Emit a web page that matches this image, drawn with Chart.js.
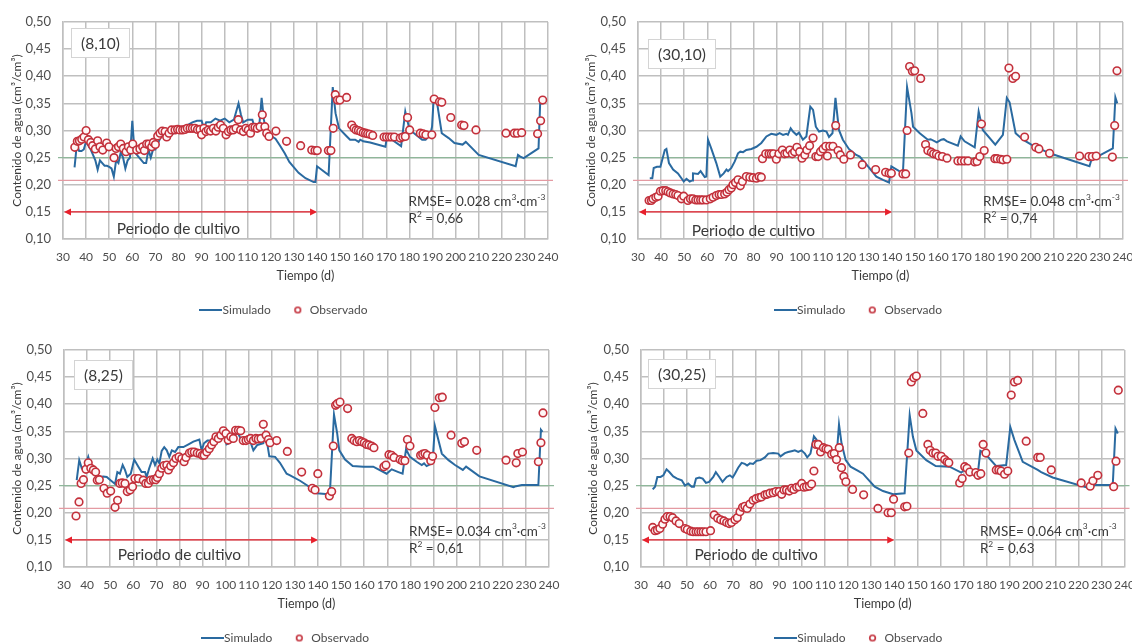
<!DOCTYPE html>
<html>
<head>
<meta charset="utf-8">
<script src="https://cdn.jsdelivr.net/npm/chart.js@4.4.1/dist/chart.umd.min.js"></script>
<style>
  html, body { margin: 0; padding: 0; background: #ffffff; }
  body { width: 1132px; height: 643px; overflow: hidden; position: relative; }
  canvas { position: absolute; }
</style>
</head>
<body>
<canvas id="c1"></canvas>
<canvas id="c2"></canvas>
<canvas id="c3"></canvas>
<canvas id="c4"></canvas>
<script>
// ---------------- DATA ----------------
const panelLabels = ['(8,10)', '(30,10)', '(8,25)', '(30,25)'];
const rmseValues = ['0.028', '0.048', '0.034', '0.064'];
const r2Values = ['0,66', '0,74', '0,61', '0,63'];
const xRange = [30, 240];
const xStep = 10;
const yRange = [0.10, 0.50];
const yStep = 0.05;
const fieldCapacity = 0.25;
const wiltingPoint = 0.208;
const cropPeriod = [30, 140];
const cropArrowLevel = 0.15;
const seriesNames = ['Simulado', 'Observado'];

const sim_8_10 = [[35,0.232],[36,0.275],[37,0.262],[38,0.262],[39,0.265],[40,0.28],[41,0.272],[42,0.265],[43,0.255],[44,0.245],[45,0.228],[46,0.245],[47,0.24],[48,0.235],[49,0.235],[50,0.233],[51,0.23],[52,0.215],[53,0.245],[54,0.24],[55,0.26],[56,0.25],[57,0.23],[58,0.245],[59,0.25],[60,0.318],[61,0.26],[62,0.255],[63,0.25],[64,0.245],[65,0.24],[66,0.24],[67,0.265],[68,0.25],[69,0.265],[70,0.265],[72,0.285],[74,0.295],[76,0.29],[78,0.295],[80,0.3],[82,0.3],[84,0.31],[86,0.315],[88,0.318],[90,0.318],[91,0.305],[92,0.315],[94,0.315],[96,0.322],[98,0.318],[100,0.322],[102,0.315],[104,0.32],[106,0.35],[107,0.33],[108,0.315],[110,0.32],[112,0.32],[113,0.305],[115,0.31],[116,0.36],[117,0.32],[118,0.295],[120,0.29],[122,0.285],[124,0.272],[126,0.258],[128,0.242],[130,0.232],[132,0.222],[135,0.212],[138.5,0.205],[139.3,0.205],[140,0.234],[145,0.218],[146.8,0.38],[148,0.332],[149.5,0.304],[152.9,0.289],[154.3,0.283],[156.5,0.283],[158,0.279],[158.7,0.283],[160,0.28],[163,0.278],[169.6,0.27],[170.3,0.289],[173.5,0.28],[176.4,0.271],[178.2,0.335],[179,0.32],[180.2,0.3],[182,0.295],[185.5,0.283],[187,0.283],[189,0.292],[189.8,0.307],[190.5,0.36],[192,0.35],[194,0.295],[197,0.286],[199.5,0.277],[203,0.274],[204.4,0.279],[210,0.255],[226,0.234],[227,0.255],[228,0.252],[229.5,0.249],[235.9,0.267],[236.6,0.35],[237.3,0.35]];
const obs_8_10 = [[35.1,0.269],[36.2,0.28],[37.1,0.281],[38.1,0.284],[39.1,0.288],[40,0.3],[41,0.283],[42,0.278],[42.8,0.272],[44,0.266],[45,0.281],[46,0.27],[47.2,0.264],[48.9,0.277],[49.9,0.27],[52.1,0.25],[53,0.267],[54,0.27],[55,0.275],[56.1,0.267],[57.3,0.261],[58.3,0.27],[59.3,0.264],[60.2,0.275],[61.9,0.264],[63.3,0.266],[64.5,0.27],[65.2,0.263],[66.2,0.275],[67.2,0.275],[68.4,0.27],[69.1,0.278],[70,0.274],[71,0.29],[72,0.295],[73,0.299],[74.2,0.298],[74.9,0.288],[75.9,0.295],[77,0.301],[78.5,0.301],[79.6,0.302],[80.6,0.301],[81.8,0.301],[82.8,0.302],[83.8,0.304],[85,0.304],[86,0.304],[87.1,0.304],[88.2,0.302],[89.3,0.302],[90,0.292],[91,0.304],[91.9,0.298],[92.9,0.301],[93.9,0.299],[95.1,0.304],[96.2,0.299],[97.2,0.306],[98.2,0.31],[99.4,0.304],[100.6,0.292],[101.6,0.298],[102.7,0.301],[103.7,0.301],[104.9,0.304],[105.9,0.32],[106.9,0.301],[108.1,0.298],[109.2,0.304],[110.2,0.301],[111.2,0.295],[112.1,0.306],[113.1,0.306],[114.1,0.304],[115.3,0.307],[116.3,0.329],[117.4,0.307],[118.2,0.295],[119.2,0.289],[122.2,0.299],[126.8,0.28],[132.9,0.272],[137.7,0.264],[139.1,0.263],[140.1,0.263],[144.9,0.263],[146,0.263],[147,0.304],[147.9,0.366],[148.8,0.356],[149.9,0.356],[152.8,0.361],[155,0.31],[156,0.304],[156.9,0.301],[157.9,0.3],[158.9,0.298],[160,0.296],[161,0.295],[161.9,0.294],[162.9,0.293],[164.1,0.291],[169,0.288],[170.1,0.288],[171.3,0.288],[172.3,0.288],[173.5,0.288],[176,0.286],[177.1,0.288],[178.2,0.289],[179.2,0.324],[180.1,0.301],[184.7,0.295],[185.9,0.294],[187.1,0.292],[189.7,0.292],[190.7,0.358],[193,0.353],[194,0.352],[197.9,0.324],[202.6,0.31],[203.6,0.309],[208.8,0.301],[221.8,0.295],[225.4,0.295],[226.7,0.295],[228.6,0.296],[235.5,0.294],[236.8,0.318],[237.7,0.356]];

const sim_30_10 = [[35.1,0.212],[36.2,0.212],[36.8,0.231],[38.2,0.233],[39.7,0.233],[41.6,0.264],[42.3,0.266],[43.4,0.24],[45.2,0.228],[47.3,0.221],[48.8,0.212],[49.8,0.206],[51,0.211],[52.4,0.206],[53.5,0.208],[53.8,0.221],[56,0.22],[57.1,0.225],[58.9,0.214],[59.6,0.215],[60.3,0.283],[61.7,0.267],[63.9,0.24],[65.6,0.215],[67.1,0.221],[68.3,0.228],[69,0.225],[70.4,0.231],[71.9,0.243],[73.3,0.258],[74.3,0.261],[75.5,0.26],[76.9,0.264],[79.1,0.266],[81.3,0.27],[83.4,0.277],[85.6,0.289],[87.7,0.294],[89.9,0.292],[91.3,0.295],[92.8,0.292],[94.2,0.294],[94.9,0.292],[96.1,0.304],[97.1,0.298],[98.6,0.292],[99.7,0.296],[101.4,0.283],[102.9,0.289],[104.6,0.344],[105.8,0.338],[107,0.307],[108.4,0.298],[110.1,0.3],[111.6,0.298],[112.7,0.288],[114.2,0.295],[115.5,0.36],[117,0.301],[118.7,0.283],[121.3,0.266],[124.5,0.255],[126,0.252],[129.6,0.234],[133.2,0.215],[136.1,0.209],[138.7,0.204],[139.7,0.234],[144.7,0.221],[146.5,0.38],[148.4,0.332],[149.1,0.307],[152,0.295],[155.5,0.283],[156.7,0.284],[159.4,0.278],[161.3,0.283],[162.4,0.284],[163.8,0.28],[168.5,0.272],[169.7,0.289],[171.4,0.28],[175.8,0.269],[177.5,0.335],[179.3,0.301],[184.7,0.274],[188,0.292],[189.7,0.36],[190.9,0.352],[193.5,0.295],[196.7,0.283],[200.3,0.274],[208.2,0.258],[225.5,0.234],[226.7,0.252],[227.7,0.249],[235.6,0.267],[236.7,0.361],[237.5,0.35]];
const obs_30_10 = [[34.8,0.171],[35.8,0.171],[36.5,0.174],[37.7,0.177],[38.7,0.179],[39.7,0.188],[40.8,0.189],[42,0.189],[43,0.187],[44,0.185],[45.2,0.183],[46.3,0.182],[47.3,0.18],[48.8,0.174],[49.8,0.179],[51.6,0.171],[52.7,0.174],[53.8,0.174],[55,0.172],[56,0.172],[57.1,0.172],[58.1,0.172],[59.6,0.172],[61.3,0.174],[62.5,0.177],[63.9,0.18],[65.1,0.182],[66.1,0.182],[67.5,0.183],[68.5,0.186],[69.4,0.191],[70.4,0.194],[71.1,0.2],[72.2,0.204],[73.3,0.209],[74.3,0.198],[75.2,0.206],[76.9,0.215],[78.4,0.214],[79.8,0.213],[81.3,0.212],[82.4,0.215],[83.4,0.214],[83.9,0.248],[85.3,0.257],[86.7,0.257],[87.7,0.257],[88.7,0.257],[89.9,0.247],[91,0.257],[92.5,0.264],[93.5,0.257],[94.5,0.258],[95.7,0.264],[96.8,0.257],[97.8,0.261],[98.8,0.269],[100,0.261],[101,0.249],[102.2,0.255],[103.1,0.264],[104.3,0.272],[105.8,0.286],[107,0.252],[108,0.252],[109,0.261],[110.1,0.266],[111.3,0.271],[112,0.253],[113,0.271],[114.4,0.271],[115.6,0.309],[116.6,0.263],[117.6,0.255],[119.1,0.247],[122,0.255],[127.1,0.237],[132.9,0.228],[137.2,0.223],[138.7,0.221],[139.7,0.221],[144.7,0.22],[145.9,0.22],[146.5,0.3],[147.6,0.418],[148.8,0.409],[149.8,0.41],[152.4,0.396],[154.5,0.274],[155.5,0.263],[157,0.26],[158,0.257],[159.2,0.256],[160.3,0.253],[161.8,0.252],[163.8,0.249],[168.5,0.244],[170,0.244],[171.4,0.244],[172.9,0.244],[175.8,0.242],[176.8,0.243],[178,0.252],[178.7,0.312],[179.9,0.263],[184.5,0.248],[185.5,0.248],[187,0.247],[188,0.246],[189.7,0.247],[190.6,0.415],[192.3,0.396],[193.5,0.4],[197.4,0.288],[202.2,0.269],[203.6,0.266],[208.2,0.258],[221.2,0.253],[225.2,0.252],[226.7,0.252],[228.4,0.253],[235.4,0.251],[236.4,0.309],[237.4,0.41]];

const sim_8_25 = [[35.5,0.26],[36.6,0.297],[37.7,0.282],[39.1,0.285],[40.5,0.303],[41.6,0.285],[43,0.28],[44.4,0.269],[45.6,0.266],[47,0.267],[48.5,0.266],[49.9,0.261],[52.1,0.253],[53.1,0.275],[54.2,0.272],[55.4,0.288],[56.4,0.279],[57.4,0.266],[58.9,0.272],[60.4,0.298],[62.2,0.285],[63.6,0.275],[65.1,0.275],[65.8,0.266],[66.9,0.282],[68.4,0.3],[69.4,0.288],[70.4,0.298],[71.3,0.291],[72.3,0.314],[73.4,0.321],[74.5,0.315],[75.6,0.303],[76.7,0.315],[78.1,0.312],[79.5,0.321],[81.7,0.321],[83.9,0.326],[86,0.331],[88.6,0.335],[89.6,0.315],[90.6,0.328],[92.1,0.333],[93.5,0.333],[95.4,0.34],[97.5,0.346],[99.3,0.343],[100.4,0.326],[101.9,0.329],[103.3,0.337],[105,0.349],[106.5,0.337],[108.4,0.335],[110.2,0.337],[112,0.315],[113.7,0.325],[116.3,0.328],[117,0.346],[117.8,0.333],[118.9,0.304],[121.4,0.303],[123.5,0.292],[126.4,0.272],[127.9,0.269],[132.2,0.259],[136.5,0.247],[139.4,0.236],[144.4,0.234],[145.2,0.242],[146.9,0.381],[148.3,0.346],[149.2,0.315],[151.7,0.298],[155,0.286],[159.6,0.285],[163.9,0.285],[169.7,0.272],[171.9,0.28],[174.8,0.275],[176.6,0.272],[178.1,0.317],[179.8,0.303],[182.7,0.294],[184.9,0.288],[185.9,0.291],[187,0.286],[188.8,0.29],[189.7,0.3],[190.6,0.36],[191.7,0.341],[193.6,0.309],[196.5,0.297],[199.3,0.288],[202.7,0.279],[204.1,0.285],[209.9,0.267],[224.6,0.247],[225.8,0.249],[228.2,0.251],[235.4,0.251],[236.5,0.353],[237.2,0.349]];
const obs_8_25 = [[35.2,0.194],[36.5,0.22],[37.4,0.254],[38.4,0.261],[39.5,0.28],[40.5,0.292],[41.6,0.282],[42.7,0.279],[43.7,0.275],[44.4,0.26],[45.3,0.261],[47.3,0.245],[48.7,0.236],[50.2,0.24],[52.1,0.21],[53.2,0.223],[54.2,0.254],[55.2,0.255],[56.4,0.254],[57.4,0.239],[58.6,0.242],[59.7,0.248],[60.7,0.263],[62.2,0.263],[64.3,0.26],[65.4,0.254],[66.5,0.254],[67.5,0.26],[68.7,0.261],[69.7,0.261],[70.4,0.265],[71.3,0.272],[72.3,0.282],[73.3,0.287],[74.5,0.288],[75.2,0.279],[76.2,0.286],[77.4,0.292],[78.5,0.3],[79.8,0.303],[81,0.3],[82,0.294],[82.8,0.302],[84.3,0.31],[85.3,0.312],[86.4,0.312],[87.7,0.31],[88.9,0.309],[89.9,0.306],[90.7,0.306],[91.8,0.312],[92.9,0.318],[93.9,0.325],[94.9,0.331],[95.8,0.34],[96.8,0.337],[97.9,0.343],[99,0.351],[100.1,0.346],[101.1,0.334],[102.2,0.34],[103.3,0.337],[104.3,0.352],[105.5,0.352],[106.5,0.351],[107.6,0.333],[108.8,0.333],[109.8,0.335],[110.8,0.337],[112,0.333],[113.1,0.337],[114.1,0.336],[115.3,0.337],[116.3,0.363],[117.5,0.343],[118.5,0.335],[119.2,0.329],[122.1,0.333],[126.7,0.313],[132.9,0.275],[137.5,0.245],[138.7,0.242],[139.9,0.272],[144.9,0.231],[145.9,0.239],[146.6,0.323],[147.6,0.398],[148.3,0.401],[149.5,0.404],[152.8,0.392],[154.6,0.337],[155.6,0.333],[156.8,0.331],[157.9,0.333],[158.9,0.331],[160,0.329],[161,0.326],[162,0.325],[163.2,0.323],[164.2,0.32],[168.5,0.285],[169.4,0.288],[170.7,0.307],[171.8,0.306],[172.9,0.302],[175.5,0.298],[176.5,0.296],[177.6,0.296],[178.7,0.335],[179.8,0.323],[184.4,0.306],[185.3,0.308],[186.3,0.309],[187.3,0.306],[188.8,0.296],[189.6,0.304],[190.6,0.394],[192.5,0.412],[193.8,0.413],[197.6,0.343],[202.2,0.328],[203.4,0.331],[208.7,0.315],[221.4,0.297],[225.8,0.292],[226.5,0.309],[228.5,0.312],[235.4,0.294],[236.5,0.329],[237.4,0.384]];

const sim_30_25 = [[35.1,0.243],[36.1,0.248],[37.1,0.266],[38.5,0.266],[39.7,0.269],[41.1,0.28],[42.3,0.275],[44,0.267],[45.7,0.263],[47.7,0.26],[49.1,0.25],[50.5,0.254],[52,0.248],[53,0.248],[53.9,0.263],[55.3,0.265],[56.8,0.263],[58.2,0.255],[59.6,0.257],[61.4,0.266],[62.5,0.275],[64,0.266],[65.4,0.257],[67.2,0.266],[68.6,0.269],[69.8,0.265],[70.8,0.272],[72.2,0.283],[73.7,0.292],[75.1,0.29],[76.1,0.287],[77.3,0.291],[78.7,0.29],[80.2,0.296],[81.9,0.297],[83.8,0.302],[85.3,0.309],[87.4,0.31],[89.6,0.309],[90.6,0.304],[92.5,0.31],[93.9,0.312],[95.8,0.314],[96.8,0.315],[98.3,0.312],[99.7,0.315],[101.2,0.309],[102.2,0.302],[103.6,0.309],[105.1,0.341],[106.2,0.335],[107.4,0.323],[108.4,0.321],[109.8,0.32],[111.3,0.312],[112.7,0.314],[114.2,0.309],[115.2,0.318],[116,0.363],[117.1,0.328],[118.9,0.297],[121,0.285],[124.3,0.277],[126.4,0.272],[131.5,0.248],[135.1,0.24],[139.5,0.234],[144.5,0.236],[146.7,0.38],[148.1,0.34],[149.6,0.315],[153.9,0.297],[158,0.286],[164,0.285],[169.1,0.274],[170.6,0.28],[176.3,0.272],[177.4,0.314],[179.2,0.31],[184.3,0.286],[188.6,0.288],[190.4,0.358],[192.2,0.334],[195.8,0.294],[202.3,0.279],[203.8,0.275],[208.8,0.265],[225.1,0.245],[226.9,0.251],[228.4,0.251],[234.9,0.251],[236.1,0.355],[237.1,0.346]];
const obs_30_25 = [[35.1,0.173],[36.1,0.167],[37.1,0.168],[38.2,0.171],[39.4,0.179],[40.4,0.188],[41.4,0.193],[42.6,0.193],[43.7,0.191],[45.2,0.185],[46.6,0.18],[49.1,0.171],[50.1,0.169],[51.6,0.166],[52.7,0.165],[53.9,0.165],[54.9,0.165],[56,0.165],[57,0.165],[58.2,0.165],[60.2,0.167],[61.8,0.196],[63.3,0.19],[64.6,0.187],[66,0.185],[67.2,0.182],[68.3,0.18],[69.3,0.182],[70.8,0.187],[71.8,0.191],[73,0.202],[74.1,0.21],[75.1,0.212],[76.1,0.208],[77.3,0.216],[78.7,0.223],[79.9,0.226],[81.3,0.228],[82.3,0.229],[83.8,0.233],[84.8,0.234],[86,0.236],[87.4,0.237],[88.6,0.239],[90,0.239],[91.1,0.234],[92.1,0.242],[93.2,0.242],[94.4,0.24],[95.4,0.245],[96.4,0.243],[97.6,0.247],[98.7,0.248],[99.8,0.254],[100.8,0.247],[101.9,0.248],[103.1,0.249],[104.1,0.253],[105.1,0.277],[106,0.326],[107,0.326],[108,0.312],[109.2,0.32],[110.3,0.318],[111.3,0.317],[112.8,0.308],[113.9,0.309],[114.9,0.298],[116.1,0.32],[117.1,0.283],[118.1,0.267],[119,0.257],[121.9,0.243],[126.7,0.233],[132.9,0.208],[137.3,0.2],[138.7,0.2],[139.7,0.225],[144.5,0.211],[145.5,0.212],[146.3,0.31],[147.4,0.441],[148.5,0.449],[149.6,0.452],[152.4,0.383],[154.6,0.326],[155.6,0.315],[156.8,0.31],[158,0.31],[159,0.304],[160.4,0.304],[161.9,0.298],[162.9,0.294],[163.7,0.292],[168.4,0.255],[169.5,0.263],[170.6,0.285],[171.6,0.282],[172.8,0.275],[175.4,0.274],[176.4,0.269],[177.6,0.272],[178.6,0.326],[179.8,0.31],[184.3,0.279],[185.4,0.279],[186.4,0.277],[187.9,0.271],[189.3,0.277],[190.8,0.417],[192.2,0.441],[193.6,0.444],[197.3,0.332],[202.3,0.302],[203.4,0.302],[208.2,0.279],[221.2,0.255],[225.1,0.249],[226.3,0.259],[228.4,0.269],[235.3,0.248],[236.3,0.295],[237.3,0.426]];

const simSeries = [sim_8_10, sim_30_10, sim_8_25, sim_30_25];
const obsSeries = [obs_8_10, obs_30_10, obs_8_25, obs_30_25];

// ---------------- LAYOUT / STYLE ----------------
const FONT = 'Lato, "Open Sans", "DejaVu Sans", sans-serif';
const SIM_COLOR = '#2a6aa0';
const OBS_COLOR = '#c3303b';
const OBS_FILL = '#fff6f6';
const GRID_COLOR = '#bfbfbf';
const TEXT_COLOR = '#4d4d4d';
const DARK_TEXT = '#3a3a3a';

const panels = [
  {id:'c1', left:0,   top:0,   w:566, h:326, pad:{left:24, right:18,  top:22, bottom:0}, yW:39, yTitlePad:-14.5, boxDx:8,  boxDy:6,  periodY:0.118, statX:179.6, statY:[0.168,0.137]},
  {id:'c2', left:566, top:0,   w:566, h:326, pad:{left:32, right:9,   top:22, bottom:0}, yW:40, yTitlePad:-14.5, boxDx:10, boxDy:17, periodY:0.114, statX:179.4, statY:[0.168,0.137]},
  {id:'c3', left:0,   top:321, w:566, h:333, pad:{left:26, right:17,  top:29, bottom:0}, yW:38, yTitlePad:-16.5, boxDx:10, boxDy:10, periodY:0.123, statX:179.4, statY:[0.166,0.133]},
  {id:'c4', left:566, top:321, w:566, h:333, pad:{left:31, right:7.5, top:29, bottom:0}, yW:44, yTitlePad:-11.2, boxDx:7,  boxDy:9,  periodY:0.123, statX:177.2, statY:[0.166,0.133]}
];

Chart.defaults.font.family = FONT;
Chart.defaults.color = TEXT_COLOR;

// legend pictograms
function makeLineImg() {
  const c = document.createElement('canvas'); c.width = 23; c.height = 2;
  const g = c.getContext('2d'); g.fillStyle = SIM_COLOR; g.fillRect(0, 0, 23, 2); return c;
}
function makeCircleImg() {
  const c = document.createElement('canvas'); c.width = 9; c.height = 9;
  const g = c.getContext('2d'); g.beginPath(); g.arc(4.5, 4.5, 2.8, 0, Math.PI * 2);
  g.fillStyle = '#ffffff'; g.fill(); g.lineWidth = 1.6; g.strokeStyle = OBS_COLOR; g.stroke(); return c;
}
const legendImgs = [makeLineImg(), makeCircleImg()];

function drawRich(ctx, parts, x, y, size) {
  let cx = x;
  parts.forEach(([t, sup]) => {
    const fs = sup ? size * 0.62 : size;
    ctx.font = fs + 'px ' + FONT;
    ctx.fillText(t, cx, y + (sup ? -size * 0.36 : 0));
    cx += ctx.measureText(t).width;
  });
}

const decorPlugin = {
  id: 'decor',
  beforeDatasetsDraw(chart, args, o) {
    const {ctx, chartArea: a, scales: {x, y}} = chart;
    ctx.save();
    const hline = (v, color, w) => {
      const py = y.getPixelForValue(v);
      ctx.beginPath(); ctx.strokeStyle = color; ctx.lineWidth = w;
      ctx.moveTo(a.left - 5, py); ctx.lineTo(a.right + 5, py); ctx.stroke();
    };
    hline(fieldCapacity, '#8fb79a', 1.3);
    hline(wiltingPoint, '#e49aa2', 1.1);
    // crop period arrow
    const ay = y.getPixelForValue(cropArrowLevel);
    const x0 = x.getPixelForValue(cropPeriod[0]);
    const x1 = x.getPixelForValue(cropPeriod[1]);
    ctx.strokeStyle = '#e8202c'; ctx.fillStyle = '#e8202c'; ctx.lineWidth = 1.2;
    ctx.beginPath(); ctx.moveTo(x0 + 3, ay); ctx.lineTo(x1 - 3, ay); ctx.stroke();
    const head = (px, dir) => {
      ctx.beginPath(); ctx.moveTo(px, ay); ctx.lineTo(px + dir * 7, ay - 3.5); ctx.lineTo(px + dir * 7, ay + 3.5); ctx.closePath(); ctx.fill();
    };
    head(x0 + 1, 1); head(x1, -1);
    // panel label box
    ctx.font = '15.5px ' + FONT;
    const tw = ctx.measureText(o.label).width;
    const bx = Math.round(a.left + o.boxDx), by = Math.round(a.top + o.boxDy), bw = Math.round(tw + 19), bh = 29;
    ctx.fillStyle = '#ffffff'; ctx.fillRect(bx, by, bw, bh);
    ctx.strokeStyle = '#d4d4d4'; ctx.lineWidth = 1; ctx.strokeRect(bx + 0.5, by + 0.5, bw, bh);
    ctx.fillStyle = DARK_TEXT; ctx.textAlign = 'center'; ctx.textBaseline = 'middle';
    ctx.fillText(o.label, bx + bw / 2 + 0.5, by + bh / 2 + 1);
    // period text
    ctx.font = '15.5px ' + FONT;
    ctx.fillText('Periodo de cultivo', x.getPixelForValue(80), y.getPixelForValue(o.periodY));
    ctx.restore();
  },
  afterDatasetsDraw(chart, args, o) {
    const {ctx, scales: {x, y}} = chart;
    ctx.save();
    ctx.fillStyle = DARK_TEXT; ctx.textAlign = 'left'; ctx.textBaseline = 'middle';
    const sx = x.getPixelForValue(o.statX);
    drawRich(ctx, [['RMSE= ' + o.rmse + ' cm'], ['3', true], ['\u00b7cm'], ['-3', true]], sx, y.getPixelForValue(o.statY[0]), 13.5);
    drawRich(ctx, [['R'], ['2', true], [' = ' + o.r2]], sx, y.getPixelForValue(o.statY[1]), 13.5);
    ctx.restore();
  }
};

panels.forEach((P, i) => {
  const cv = document.getElementById(P.id);
  cv.width = P.w; cv.height = P.h;
  cv.style.left = P.left + 'px'; cv.style.top = P.top + 'px';
  cv.style.width = P.w + 'px'; cv.style.height = P.h + 'px';
  new Chart(cv, {
    type: 'line',
    data: {
      datasets: [
        {
          type: 'line', label: seriesNames[0],
          data: simSeries[i].map(([xv, yv]) => ({x: xv, y: yv})),
          borderColor: SIM_COLOR, backgroundColor: SIM_COLOR, borderWidth: 2,
          pointRadius: 0, tension: 0, fill: false, order: 1
        },
        {
          type: 'line', label: seriesNames[1], showLine: false,
          data: obsSeries[i].map(([xv, yv]) => ({x: xv, y: yv})),
          borderColor: OBS_COLOR, backgroundColor: OBS_FILL,
          pointRadius: 3.8, pointBorderWidth: 1.6, pointBorderColor: OBS_COLOR, pointBackgroundColor: OBS_FILL,
          order: 0
        }
      ]
    },
    options: {
      responsive: false, animation: false, devicePixelRatio: 1,
      events: [],
      layout: {padding: P.pad},
      plugins: {
        tooltip: {enabled: false},
        legend: {
          position: 'bottom',
          labels: {
            usePointStyle: true, padding: 21, color: TEXT_COLOR, font: {size: 12},
            generateLabels: (chart) => chart.data.datasets.map((ds, k) => ({
              text: ds.label, fillStyle: k ? OBS_FILL : SIM_COLOR, strokeStyle: k ? OBS_COLOR : SIM_COLOR,
              lineWidth: 0, pointStyle: legendImgs[k], hidden: false, datasetIndex: k, fontColor: TEXT_COLOR
            }))
          }
        },
        decor: {label: panelLabels[i], rmse: rmseValues[i], r2: r2Values[i], boxDx: P.boxDx, boxDy: P.boxDy, periodY: P.periodY, statX: P.statX, statY: P.statY}
      },
      scales: {
        x: {
          type: 'linear', min: xRange[0], max: xRange[1],
          ticks: {stepSize: xStep, autoSkip: false, maxRotation: 0, minRotation: 0, padding: 11, color: TEXT_COLOR, font: {size: 12}, callback: v => String(v)},
          grid: {color: GRID_COLOR, lineWidth: 1.5, drawTicks: false},
          border: {color: GRID_COLOR, width: 1.5},
          title: {display: true, text: 'Tiempo (d)', color: DARK_TEXT, font: {size: 12.5}, padding: {top: 0, bottom: 0}},
          afterFit(s) { s.height = 44; s.paddingLeft = 0; s.paddingRight = 0; }
        },
        y: {
          type: 'linear', min: yRange[0], max: yRange[1],
          ticks: {stepSize: yStep, padding: 12, color: TEXT_COLOR, font: {size: 13}, callback: v => v.toFixed(2).replace('.', ',')},
          grid: {color: GRID_COLOR, lineWidth: 1.5, drawTicks: false},
          border: {color: GRID_COLOR, width: 1.5},
          title: {display: true, text: 'Contenido de agua (cm\u00b3/cm\u00b3)', color: DARK_TEXT, font: {size: 12}, padding: {top: P.yTitlePad, bottom: 0}},
          afterFit(s) { s.width = P.yW; s.paddingTop = 0; s.paddingBottom = 0; }
        }
      }
    },
    plugins: [decorPlugin]
  });
});
</script>
</body>
</html>
